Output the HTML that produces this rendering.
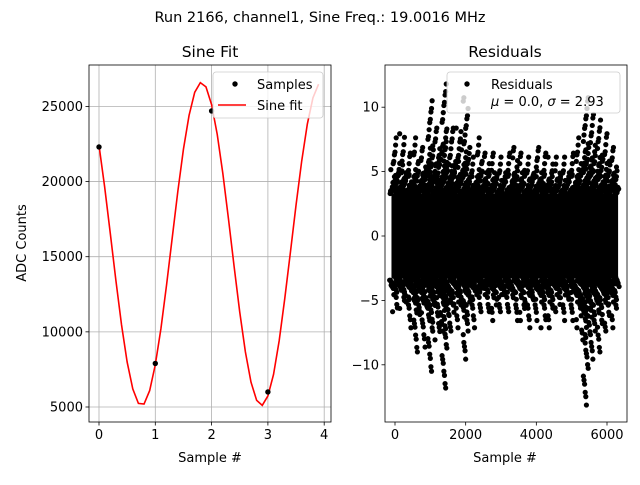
<!DOCTYPE html>
<html><head><meta charset="utf-8"><style>
body{margin:0;background:#fff}
svg text{font-family:"DejaVu Sans","Liberation Sans",sans-serif;fill:#000}
</style></head><body>
<svg id="fig" width="640" height="480" viewBox="0 0 640 480" xmlns="http://www.w3.org/2000/svg">
<rect width="640" height="480" fill="#fff"/>
<text x="320" y="22" text-anchor="middle" font-size="14.5">Run 2166, channel1, Sine Freq.: 19.0016 MHz</text>
<g id="left"></g>
<g id="right"></g>
</svg>
<script>
// ---- Sine fit data ----
const sampleX = [0, 1, 2, 3];
const sampleY = [22300, 7900, 24700, 6000];
const fitX = [0,0.1,0.2,0.3,0.4,0.5,0.6,0.7,0.8,0.9,1.0,1.1,1.2,1.3,1.4,1.5,1.6,1.7,1.8,1.9,2.0,2.1,2.2,2.3,2.4,2.5,2.6,2.7,2.8,2.9,3.0,3.1,3.2,3.3,3.4,3.5,3.6,3.7,3.8,3.9];
const fitY = [22408,19656,16570,13420,10475,7990,6207,5240,5197,6090,7810,10217,13120,16237,19344,22160,24407,25934,26580,26300,25117,23140,20526,17505,14345,11313,8669,6648,5444,5110,5734,7164,9400,12227,15302,18440,21354,23816,25568,26480];
const leftXTicks = [0,1,2,3,4];
const leftYTicks = [5000,10000,15000,20000,25000];
// ---- Residuals data (per-bin extremes) ----
const binX = [0,200,400,600,800,1000,1200,1400,1600,1800,2000,2200,2400,2600,2800,3000,3200,3400,3600,3800,4000,4200,4400,4600,4800,5000,5200,5400,5600,5800,6000,6200];
const binHi = [7.5,8,6.5,7.5,7,10.5,8.5,11.8,8.5,8.5,10.8,6,7.5,6.5,6.5,6,6.5,7,6.5,6,7,6.5,6,6,6,6.5,7.5,10.8,9.5,9,8,7];
const binLo = [-6,-5.5,-7,-9,-8.5,-10.5,-8,-11.8,-7.5,-7,-9.5,-7,-6,-6,-6.5,-6,-6,-6.5,-6.5,-7,-6.5,-7,-7,-6,-6.5,-6.5,-7,-13,-9.5,-9,-7.5,-7];
const coreHi = 3.3, coreLo = -3.3;
const rightXTicks = [0,2000,4000,6000];
const rightYTicks = [-10,-5,0,5,10];

const NS='http://www.w3.org/2000/svg';
function mk(parent, tag, attrs){const e=document.createElementNS(NS,tag);for(const k in attrs)e.setAttribute(k,attrs[k]);parent.appendChild(e);return e;}

// Left axes
const L={x0:89,x1:331,y0:65,y1:422};
const lx=v=>99+(v-0)*56.3;
const ly=v=>407-(v-5000)*(75.15/5000);
const lg=document.getElementById('left');
leftXTicks.forEach(t=>{
  const g=mk(lg,'line',{x1:lx(t),x2:lx(t),y1:L.y0,y2:L.y1,stroke:'#b0b0b0','stroke-width':0.8});
  
  mk(lg,'line',{x1:lx(t),x2:lx(t),y1:L.y1,y2:L.y1+3.5,stroke:'#000','stroke-width':0.8});
  const tx=mk(lg,'text',{x:lx(t),y:L.y1+17,'text-anchor':'middle','font-size':13});tx.textContent=t;
  
});
leftYTicks.forEach(t=>{
  const g=mk(lg,'line',{x1:L.x0,x2:L.x1,y1:ly(t),y2:ly(t),stroke:'#b0b0b0','stroke-width':0.8});
  
  mk(lg,'line',{x1:L.x0-3.5,x2:L.x0,y1:ly(t),y2:ly(t),stroke:'#000','stroke-width':0.8});
  const tx=mk(lg,'text',{x:L.x0-6,y:ly(t)+4.5,'text-anchor':'end','font-size':13});tx.textContent=t;
  
});
const fit=mk(lg,'polyline',{points:fitX.map((x,i)=>lx(x)+','+ly(fitY[i])).join(' '),fill:'none',stroke:'#f00','stroke-width':1.6});

sampleX.forEach((x,i)=>{const c=mk(lg,'circle',{cx:lx(x),cy:ly(sampleY[i]),r:2.7,fill:'#000'});
  });
const lf=mk(lg,'rect',{x:L.x0,y:L.y0,width:L.x1-L.x0,height:L.y1-L.y0,fill:'none',stroke:'#000','stroke-width':0.8});

let t=mk(lg,'text',{x:210,y:57,'text-anchor':'middle','font-size':15.5});t.textContent='Sine Fit';

t=mk(lg,'text',{x:210,y:462,'text-anchor':'middle','font-size':13});t.textContent='Sample #';

t=mk(lg,'text',{x:26,y:243,'text-anchor':'middle','font-size':13,transform:'rotate(-90 26 243)'});t.textContent='ADC Counts';

// left legend
const leg=mk(lg,'g',{});
mk(leg,'rect',{x:213,y:72,width:110,height:46,rx:3,fill:'#fff','fill-opacity':0.8,stroke:'#ccc','stroke-width':0.8});
mk(leg,'circle',{cx:235,cy:84,r:2.7,fill:'#000'});
t=mk(leg,'text',{x:257,y:89,'font-size':13});t.textContent='Samples';

mk(leg,'line',{x1:218,x2:246,y1:105,y2:105,stroke:'#f00','stroke-width':1.5});
t=mk(leg,'text',{x:257,y:110,'font-size':13});t.textContent='Sine fit';


// Right axes
const R={x0:385,x1:627,y0:65,y1:422};
const rx=v=>395+v*(212/6000);
const ry=v=>236-v*12.88;
const rg=document.getElementById('right');
const w=212/6000*200;
binX.forEach((b,i)=>{
  const core=mk(rg,'rect',{x:rx(b)-w/2,y:ry(coreHi),width:w+0.5,height:ry(coreLo)-ry(coreHi),fill:'#000'});
  
  [[binHi[i],coreHi],[binLo[i],coreLo]].forEach(([ext,c0],side)=>{
    const n=Math.max(2,Math.ceil(Math.abs(ext-c0)/0.3));
    for(let j=1;j<=n;j++){
      const f=j/n;
      const v=c0+(ext-c0)*Math.pow(f,1.6);
      const cnt=Math.max(1,Math.round(7*(1-f)*(1-f)+ (j===n?0:0.6)));
      for(let k=0;k<cnt;k++){
        const off=((k+0.5)/cnt-0.5)*w + ((j*37+k*53+i*11+side*17)%9-4)*0.6;
        const c=mk(rg,'circle',{cx:rx(b)+off,cy:ry(v)+((j*13+k*7)%5-2)*0.8,r:2.6,fill:'#000'});
        
      }
    }
  });
});
rightXTicks.forEach(v=>{
  mk(rg,'line',{x1:rx(v),x2:rx(v),y1:R.y1,y2:R.y1+3.5,stroke:'#000','stroke-width':0.8});
  const tx=mk(rg,'text',{x:rx(v),y:R.y1+17,'text-anchor':'middle','font-size':13});tx.textContent=v;
  
});
rightYTicks.forEach(v=>{
  mk(rg,'line',{x1:R.x0-3.5,x2:R.x0,y1:ry(v),y2:ry(v),stroke:'#000','stroke-width':0.8});
  const tx=mk(rg,'text',{x:R.x0-6,y:ry(v)+4.5,'text-anchor':'end','font-size':13});tx.textContent=v<0?'\u2212'+(-v):v;
  
});
const rf=mk(rg,'rect',{x:R.x0,y:R.y0,width:R.x1-R.x0,height:R.y1-R.y0,fill:'none',stroke:'#000','stroke-width':0.8});

t=mk(rg,'text',{x:505,y:57,'text-anchor':'middle','font-size':15.5});t.textContent='Residuals';

t=mk(rg,'text',{x:505,y:462,'text-anchor':'middle','font-size':13});t.textContent='Sample #';

const leg2=mk(rg,'g',{});
mk(leg2,'rect',{x:447,y:72,width:173,height:41,rx:3,fill:'#fff','fill-opacity':0.8,stroke:'#ccc','stroke-width':0.8});
mk(leg2,'circle',{cx:467,cy:84,r:2.7,fill:'#000'});
t=mk(leg2,'text',{x:491,y:89,'font-size':13});t.textContent='Residuals';

t=mk(leg2,'text',{x:491,y:106,'font-size':13});t.innerHTML='<tspan font-style="italic">μ</tspan> = 0.0, <tspan font-style="italic">σ</tspan> = 2.93';

</script>
</body></html>
